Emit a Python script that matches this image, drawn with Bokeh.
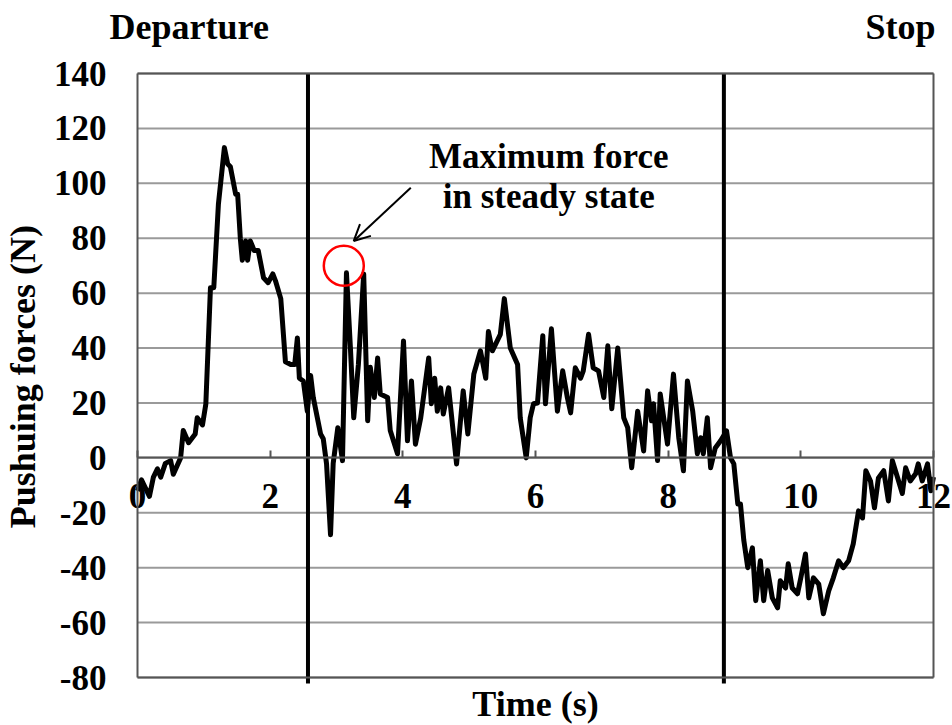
import math
from bokeh.plotting import figure
from bokeh.models import (Range1d, Label, Arrow, OpenHead, FixedTicker, LinearAxis,
                          PrintfTickFormatter)
from bokeh.embed import file_html
from bokeh.resources import INLINE

# ---- data ----
time_s = [
    0.00, 0.06, 0.12, 0.18, 0.24, 0.30, 0.35, 0.42, 0.50, 0.54,
    0.65, 0.69, 0.77, 0.87, 0.90, 0.98, 1.03, 1.10, 1.15, 1.22,
    1.31, 1.36, 1.40, 1.48, 1.51, 1.55, 1.58, 1.63, 1.66, 1.70,
    1.76, 1.82, 1.90, 1.97, 2.04, 2.08, 2.16, 2.23, 2.31, 2.37,
    2.41, 2.44, 2.50, 2.56, 2.61, 2.65, 2.76, 2.80, 2.85, 2.91,
    2.95, 3.02, 3.09, 3.15, 3.21, 3.26, 3.33, 3.41, 3.47, 3.51,
    3.57, 3.62, 3.66, 3.77, 3.81, 3.92, 4.01, 4.07, 4.13, 4.19,
    4.27, 4.39, 4.43, 4.48, 4.52, 4.57, 4.61, 4.69, 4.81, 4.91,
    4.98, 5.07, 5.17, 5.25, 5.29, 5.35, 5.47, 5.53, 5.62, 5.73,
    5.77, 5.86, 5.92, 5.97, 6.03, 6.11, 6.15, 6.24, 6.33, 6.41,
    6.48, 6.53, 6.60, 6.68, 6.72, 6.80, 6.87, 6.95, 7.03, 7.09,
    7.15, 7.24, 7.33, 7.39, 7.45, 7.54, 7.63, 7.69, 7.75, 7.78,
    7.84, 7.88, 7.99, 8.08, 8.16, 8.23, 8.29, 8.37, 8.44, 8.49,
    8.53, 8.59, 8.64, 8.71, 8.79, 8.88, 8.94, 8.99, 9.05, 9.09,
    9.14, 9.20, 9.27, 9.32, 9.39, 9.44, 9.50, 9.57, 9.65, 9.69,
    9.77, 9.81, 9.87, 9.95, 10.00, 10.07, 10.12, 10.19, 10.27, 10.34,
    10.42, 10.49, 10.57, 10.64, 10.72, 10.79, 10.87, 10.93, 10.98, 11.05,
    11.11, 11.17, 11.25, 11.32, 11.38, 11.46, 11.53, 11.58, 11.65, 11.73,
    11.77, 11.83, 11.91, 11.96, 12.00,
]
force_n = [
    -12, -8, -11, -14, -7, -4, -7, -2, -1, -6,
    0, 10, 5.5, 8.7, 14.6, 12, 19.6, 62, 62, 92.5,
    113, 107, 106, 96, 96, 80, 72, 79, 72, 79,
    75.5, 75.5, 65.6, 63.8, 67, 64.5, 58, 35, 34, 34,
    43.7, 29, 28, 17, 30, 22, 8.7, 7, -2.2, -28,
    -2, 11, -1, 67.4, 40, 14.6, 34, 67, 13.5, 33,
    22, 36.4, 23.3, 22, 10, 1.5, 42.6, 6.2, 28, 5,
    14.6, 36.4, 19.7, 29, 17, 25.5, 16, 25.5, -2.2, 24.4,
    8.7, 30.5, 39, 29, 46, 39, 45, 58, 40, 34,
    14.6, 0, 14.6, 19.7, 20, 44.5, 19.7, 47, 17, 31.7,
    22, 16.4, 32.8, 29, 31.7, 45, 32.8, 31.7, 22, 40.8,
    17.9, 40, 14.6, 11, -3.6, 17, 2.5, 24.4, 13.5, 19.7,
    -1, 23.3, 5, 30.5, 7.3, -4.7, 28, 17, 1.5, 7.3,
    1.5, 14.6, -3.6, 3.6, 6.2, 9.8, 0, -2.2, -16.8, -16.8,
    -30, -40, -32.8, -52, -37.5, -52, -41, -51, -54.6, -44.8,
    -47.4, -38.6, -47.4, -49.5, -43.7, -35, -51, -43.7, -46, -56.8,
    -48.5, -43.7, -37.5, -40, -37.5, -31.3, -19.3, -21.9, -4.7, -8.4,
    -18.2, -7.3, -4.7, -15.7, -1, -7.3, -13, -3.6, -8.4, -5.8,
    -2.2, -8.4, -2.2, -12, -7,
]
x_ticks = [0, 2, 4, 6, 8, 10, 12]
y_ticks = [-80, -60, -40, -20, 0, 20, 40, 60, 80, 100, 120, 140]
phase_bounds = [2.57, 8.84]          # end of departure / start of stop (s)
phase_labels = ["Departure", "Stop"]
peak_marker = (3.11, 70)             # circled maximum in steady state
note_lines = ["Maximum force", "in steady state"]
x_title = "Time (s)"
y_title = "Pushuing forces (N)"

X_MIN, X_MAX = 0, 12
Y_MIN, Y_MAX = -80, 140

# ---- layout (pixels of the plot box inside the canvas) ----
W, H = 952, 725
BOX_L, BOX_R, BOX_T, BOX_B = 137, 933, 73, 677
sx = (BOX_R - BOX_L) / (X_MAX - X_MIN)
sy = (BOX_B - BOX_T) / (Y_MAX - Y_MIN)
x_lo = X_MIN - BOX_L / sx
x_hi = X_MAX + (W - BOX_R) / sx
y_lo = Y_MIN - (H - BOX_B) / sy
y_hi = Y_MAX + BOX_T / sy

FONT = "Liberation Serif"
FS = "35px"
FS_T = "36px"
BORDER = "#555555"
GRID = "#9a9a9a"

p = figure(width=W, height=H, output_backend="svg", toolbar_location=None,
           x_range=Range1d(x_lo, x_hi), y_range=Range1d(y_lo, y_hi),
           x_axis_location=None, y_axis_location=None,
           min_border=0, min_border_left=0, min_border_right=0,
           min_border_top=0, min_border_bottom=0,
           background_fill_color="white", border_fill_color="white")
p.outline_line_color = None
p.xgrid.visible = False
p.ygrid.visible = False

# horizontal grid lines inside the box, one per y tick
n_y = len(y_ticks)
p.segment(x0=[X_MIN] * n_y, y0=y_ticks, x1=[X_MAX] * n_y, y1=y_ticks,
          line_color=GRID, line_width=2)

# phase boundary lines (black, reaching slightly below the box)
n_b = len(phase_bounds)
p.segment(x0=phase_bounds, y0=[Y_MIN - 2.2] * n_b, x1=phase_bounds, y1=[Y_MAX] * n_b,
          line_color="black", line_width=4)

fmt = PrintfTickFormatter(format="%d")

# y axis on the left edge of the box
ya = LinearAxis(fixed_location=X_MIN, bounds=(Y_MIN, Y_MAX),
                ticker=FixedTicker(ticks=y_ticks), formatter=fmt,
                major_tick_in=0, major_tick_out=0, minor_tick_line_color=None,
                axis_line_color=BORDER, axis_line_width=2,
                major_label_standoff=31, major_label_text_font=FONT,
                major_label_text_font_size=FS, major_label_text_font_style="bold",
                major_label_text_color="black")
p.add_layout(ya, "left")

# x axis along force = 0
xa = LinearAxis(fixed_location=0, bounds=(X_MIN, X_MAX),
                ticker=FixedTicker(ticks=x_ticks), formatter=fmt,
                major_tick_in=7, major_tick_out=0, minor_tick_line_color=None,
                major_tick_line_color=BORDER, major_tick_line_width=2,
                axis_line_color=BORDER, axis_line_width=2,
                major_label_standoff=26, major_label_text_font=FONT,
                major_label_text_font_size=FS, major_label_text_font_style="bold",
                major_label_text_color="black")
p.add_layout(xa, "below")

# remaining box edges
def edge_axis(loc, bounds):
    return LinearAxis(fixed_location=loc, bounds=bounds, ticker=FixedTicker(ticks=[]),
                      major_tick_line_color=None, minor_tick_line_color=None,
                      major_label_text_font_size="0px",
                      axis_line_color=BORDER, axis_line_width=2)

p.add_layout(edge_axis(Y_MAX, (X_MIN, X_MAX)), "above")
p.add_layout(edge_axis(Y_MIN, (X_MIN, X_MAX)), "below")
p.add_layout(edge_axis(X_MAX, (Y_MIN, Y_MAX)), "right")

# data
p.line(time_s, force_n, line_color="black", line_width=5, line_join="round")

# peak marker and note
p.scatter([peak_marker[0]], [peak_marker[1]], marker="circle", size=40,
          fill_color=None, line_color="red", line_width=2.5)
p.add_layout(Arrow(end=OpenHead(size=16, line_width=2, line_color="black"),
                   x_start=4.12, y_start=98.4, x_end=3.26, y_end=79,
                   line_width=2, line_color="black"))

def txt(x, y, s, align="center", angle=0.0, baseline="alphabetic", size=FS):
    p.add_layout(Label(x=x, y=y, text=s, text_align=align, text_baseline=baseline,
                       angle=angle, text_font=FONT, text_font_size=size,
                       text_font_style="bold", text_color="black"))

txt(6.2, 109.8, note_lines[0])
txt(6.2, 95.2, note_lines[1])
txt(0.78, 157.1, phase_labels[0], size=FS_T)
txt(12.03, 157.1, phase_labels[1], align="right", size=FS_T)
txt(6.0, -89.6, x_title, size=FS_T)
txt(-1.72, 29.6, y_title, angle=math.pi / 2, baseline="middle", size=FS_T)

open("out.html", "w").write(file_html(p, INLINE))
